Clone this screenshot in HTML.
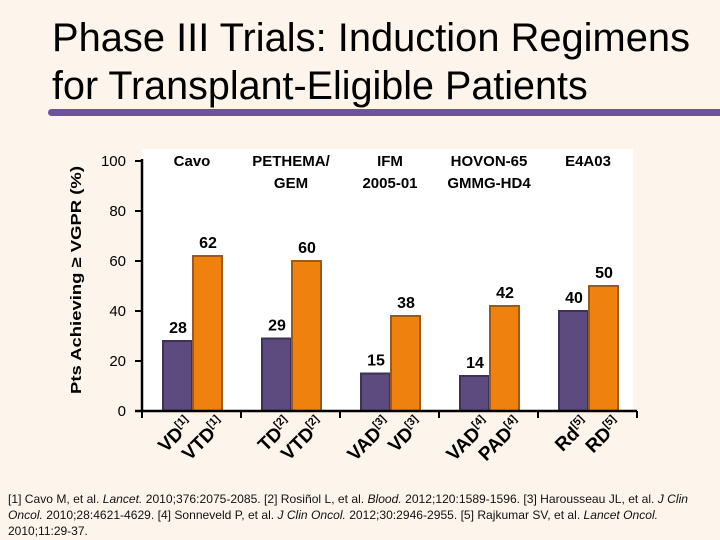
<!DOCTYPE html>
<html><head><meta charset="utf-8"><style>
body{margin:0;background:#fdf5ec;}
svg{display:block;font-family:"Liberation Sans",Arial,sans-serif;}
</style></head><body>
<svg width="720" height="540" viewBox="0 0 720 540">
<rect width="720" height="540" fill="#fdf5ec"/>
<text x="52" y="51" font-size="39.5" fill="#000" textLength="638" lengthAdjust="spacingAndGlyphs">Phase III Trials: Induction Regimens</text>
<text x="52" y="99" font-size="39.5" fill="#000">for Transplant-Eligible Patients</text>
<rect x="48" y="109" width="680" height="7" rx="3.5" fill="#6e529a"/>
<rect x="142" y="149" width="491" height="262" fill="#ffffff"/>
<text transform="translate(81,280) rotate(-90)" text-anchor="middle" font-size="15" font-weight="bold" textLength="228" lengthAdjust="spacingAndGlyphs">Pts Achieving ≥ VGPR (%)</text>
<g id="chart"></g>
<text x="8" y="503" font-size="12" fill="#111" textLength="680" lengthAdjust="spacingAndGlyphs">[1] Cavo M, et al. <tspan font-style="italic">Lancet.</tspan> 2010;376:2075-2085. [2] Rosiñol L, et al. <tspan font-style="italic">Blood.</tspan> 2012;120:1589-1596. [3] Harousseau JL, et al. <tspan font-style="italic">J Clin</tspan></text>
<text x="8" y="519" font-size="12" fill="#111" textLength="650" lengthAdjust="spacingAndGlyphs"><tspan font-style="italic">Oncol.</tspan> 2010;28:4621-4629. [4] Sonneveld P, et al. <tspan font-style="italic">J Clin Oncol.</tspan> 2012;30:2946-2955. [5] Rajkumar SV, et al. <tspan font-style="italic">Lancet Oncol.</tspan></text>
<text x="8" y="535" font-size="12" fill="#111">2010;11:29-37.</text>
</svg>
<script>
const groups = [["Cavo"],["PETHEMA/","GEM"],["IFM","2005-01"],["HOVON-65","GMMG-HD4"],["E4A03"]];
const controlValues = [28, 29, 15, 14, 40];
const tripletValues = [62, 60, 38, 42, 50];
const controlLabels = [["VD","[1]"],["TD","[2]"],["VAD","[3]"],["VAD","[4]"],["Rd","[5]"]];
const tripletLabels = [["VTD","[1]"],["VTD","[2]"],["VD","[3]"],["PAD","[4]"],["RD","[5]"]];
const yTicks = [0, 20, 40, 60, 80, 100];

const NS = "http://www.w3.org/2000/svg";
const g = document.getElementById("chart");
const x0 = 142, gw = 99, yBase = 411, yTop = 161;
const y = v => yBase - (v / 100) * (yBase - yTop);
function mk(tag, attrs, txt){const e=document.createElementNS(NS,tag);for(const k in attrs)e.setAttribute(k,attrs[k]);if(txt!=null)e.textContent=txt;g.appendChild(e);return e;}

yTicks.forEach(t=>{
  const l=mk("line",{x1:x0-7,x2:x0,y1:y(t),y2:y(t),stroke:"#000","stroke-width":2});
  
  
  const tx=mk("text",{x:x0-16,y:y(t)+5,"text-anchor":"end","font-size":15},String(t));
  
  
});

groups.forEach((lines,i)=>{
  const gx=x0+i*gw;
  lines.forEach((s,j)=>{
    const t=mk("text",{x:gx+50,y:166+j*22,"text-anchor":"middle","font-size":15,"font-weight":"bold"},s);
    
    
  });
  const cv=controlValues[i], tv=tripletValues[i];
  const b1=mk("rect",{x:gx+21,y:y(cv),width:29,height:yBase-y(cv),fill:"#5d4a7e",stroke:"#3e3058","stroke-width":2});
  
  
  const b2=mk("rect",{x:gx+51,y:y(tv),width:29,height:yBase-y(tv),fill:"#ef820f",stroke:"#9a5a1c","stroke-width":2});
  
  
  const v1=mk("text",{x:gx+36,y:y(cv)-8,"text-anchor":"middle","font-size":16,"font-weight":"bold"},String(cv));
  
  
  const v2=mk("text",{x:gx+66,y:y(tv)-8,"text-anchor":"middle","font-size":16,"font-weight":"bold"},String(tv));
  
  
  [[controlLabels[i],gx+52],[tripletLabels[i],gx+84]].forEach(([lab,ax])=>{
    const t=mk("text",{transform:`translate(${ax},${yBase+14}) rotate(-45)`,"text-anchor":"end","font-size":19,"font-weight":"bold"});
    const a=document.createElementNS(NS,"tspan");a.textContent=lab[0];t.appendChild(a);
    const b=document.createElementNS(NS,"tspan");b.setAttribute("font-size","11");b.setAttribute("dy","-8");b.textContent=lab[1];t.appendChild(b);
    
    
  });
});
for(let i=0;i<=groups.length;i++){
  const t=mk("line",{x1:x0+i*gw,x2:x0+i*gw,y1:yBase,y2:yBase+7,stroke:"#000","stroke-width":2});
  
  
}
const ya=mk("line",{x1:x0,x2:x0,y1:yTop-2,y2:yBase+1,stroke:"#000","stroke-width":2.5});


const xa=mk("line",{x1:x0-7,x2:x0+groups.length*gw,y1:yBase,y2:yBase,stroke:"#000","stroke-width":2.5});


</script>
</body></html>
